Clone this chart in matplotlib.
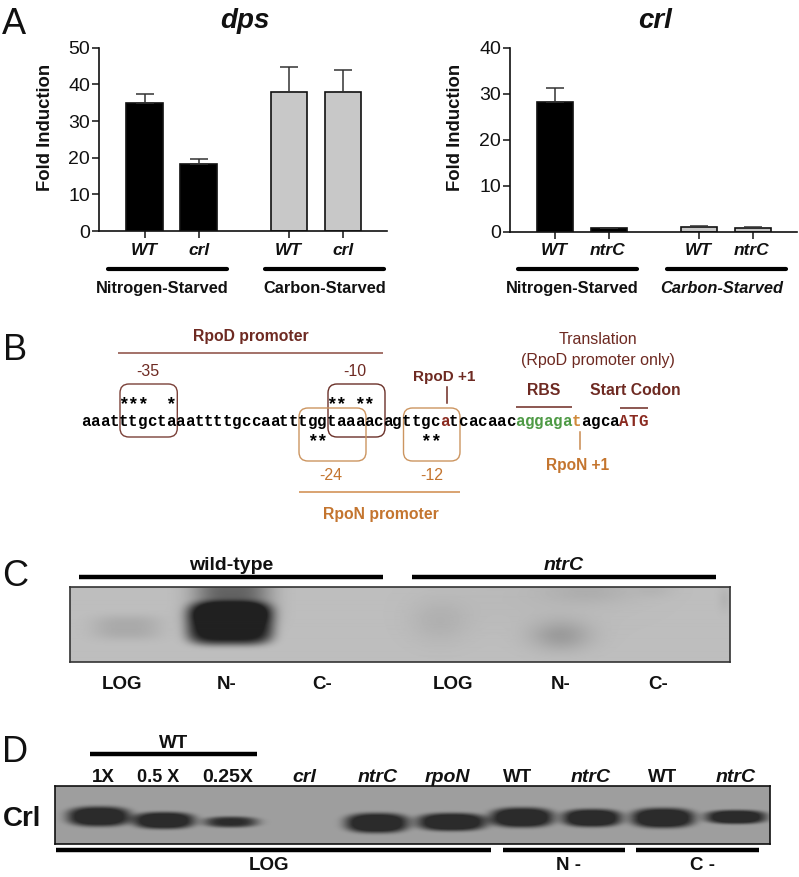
import numpy as np
import matplotlib
matplotlib.use("Agg")
import matplotlib.pyplot as plt
from matplotlib.patches import FancyBboxPatch

W, H = 799, 877
SANS = ['Liberation Sans']
plt.rcParams['font.family'] = SANS

# ---- panel A data
dps_groups = ['WT', 'crl', 'WT', 'crl']
dps_values = [35.0, 18.3, 38.0, 37.8]
dps_errors = [2.5, 1.4, 6.7, 6.2]
crl_groups = ['WT', 'ntrC', 'WT', 'ntrC']
crl_values = [28.3, 0.7, 1.1, 0.8]
crl_errors = [2.9, 0.15, 0.2, 0.2]
bar_colors = ['black', 'black', '#c8c8c8', '#c8c8c8']
bar_positions = [0, 1, 2.67, 3.67]

# ---- panel B data
sequence = "aaatttgctaaattttgccaatttggtaaaacagttgcatcacaacaggagatagcaATG"
red_idx = [38, 57, 58, 59]
green_idx = [46, 47, 48, 49, 50, 51]
orange_idx = [52]
star_top = [4, 5, 6, 9, 26, 27, 29, 30]
star_bottom = [24, 25, 36, 37]

# ---- blot bands: x centre, y centre, half width, half height, darkness, edge sharpness, corner squareness
c_bands = [
    (127, 628, 34, 12, 0.08, 3, 3), (230, 624, 43, 21, 0.72, 6, 4), (232, 598, 38, 24, 0.36, 3, 4),
    (440, 622, 30, 22, 0.05, 2, 2), (561, 636, 30, 15, 0.13, 2, 2), (590, 592, 45, 12, 0.05, 2, 2),
    (540, 600, 100, 30, 0.02, 2, 2), (655, 590, 20, 8, 0.03, 2, 2), (725, 600, 6, 12, 0.04, 2, 2),
]
d_bands = [
    (99, 816.5, 32, 10, 0.56, 5, 2.6), (164, 820.5, 31, 8.5, 0.56, 5, 2.6), (231, 822, 27, 5.5, 0.46, 4, 2.4),
    (377, 823, 32, 10, 0.57, 5, 2.6), (452, 822, 35, 9, 0.57, 5, 2.6), (522, 817.5, 32, 10, 0.58, 5, 2.6),
    (592, 818, 30, 9, 0.57, 5, 2.6), (663, 818, 32, 10, 0.58, 5, 2.6), (736, 817, 31, 7, 0.55, 5, 2.6),
]

fig = plt.figure(figsize=(W / 100, H / 100), dpi=100, facecolor='white')


def px_axes(x0, x1, ytop, ybot, **kw):
    return fig.add_axes([x0 / W, 1 - ybot / H, (x1 - x0) / W, (ybot - ytop) / H], **kw)


def bar_panel(x0, x1, ytop, ybot, ymax, yticks, vals, errs, xscale_first, unit):
    ax = px_axes(x0, x1, ytop, ybot)
    ax.set_facecolor('none')
    ax.bar(bar_positions, vals, width=0.67, color=bar_colors, edgecolor='#111111', linewidth=1.2)
    for p, v, e in zip(bar_positions, vals, errs):
        ax.errorbar(p, v, yerr=[[0], [e]], color='#333333', capsize=6.5, capthick=1.1, elinewidth=1.1)
    ax.set_xlim((x0 - xscale_first) / unit, (x1 - xscale_first) / unit)
    ax.set_ylim(0, ymax)
    ax.set_yticks(yticks)
    ax.set_xticks(bar_positions)
    ax.set_xticklabels([])
    ax.tick_params(axis='y', labelsize=14, width=1.1, length=5, pad=1.5, colors='#111111')
    ax.tick_params(axis='x', width=1.1, length=5, color='#111111')
    for s in ('top', 'right'):
        ax.spines[s].set_visible(False)
    for s in ('left', 'bottom'):
        ax.spines[s].set_linewidth(1.2)
        ax.spines[s].set_color('#111111')
    return ax


bar_panel(99, 387, 47.7, 231, 50, [0, 10, 20, 30, 40, 50], dps_values, dps_errors, 144.5, 54)
bar_panel(510, 797, 47.7, 231.7, 40, [0, 10, 20, 30, 40], crl_values, crl_errors, 555, 54)


def blot(x0, x1, ytop, ybot, bg, bands, edge, lw, floor):
    ax = px_axes(x0, x1, ytop, ybot)
    xs = np.arange(x0, x1, 1.0) + 0.5
    ys = np.arange(ytop, ybot, 1.0) + 0.5
    X, Y = np.meshgrid(xs, ys)
    img = np.full(X.shape, bg, dtype=float)
    for cx, cy, rx, ry, d, p, q in bands:
        r = (np.abs((X - cx) / rx) ** q + np.abs((Y - cy) / ry) ** q) ** (1.0 / q)
        img -= d * np.exp(-r ** p)
    ax.imshow(np.clip(img, floor, 1), cmap='gray', vmin=0, vmax=1, aspect='auto', interpolation='bilinear')
    ax.set_xticks([])
    ax.set_yticks([])
    for s in ax.spines.values():
        s.set_linewidth(lw)
        s.set_color(edge)
    return ax


blot(70, 730, 587, 662, 0.745, c_bands, '#333333', 1.2, 0.13)
blot(55, 770, 786, 844, 0.62, d_bands, '#111111', 1.2, 0.17)

# overlay in pixel coordinates
ov = fig.add_axes([0, 0, 1, 1], facecolor='none')
ov.set_xlim(0, W)
ov.set_ylim(H, 0)
ov.axis('off')


def T(x, y, s, size=10.5, weight='bold', style='normal', color='#111111', va='center_baseline', **kw):
    ov.text(x, y, s, fontsize=size, fontweight=weight, fontstyle=style, color=color,
            family=SANS, ha='center', va=va, **kw)


def L(x0, x1, y, lw=3.0, color='black', cap='butt'):
    ov.plot([x0, x1], [y, y], color=color, lw=lw, solid_capstyle=cap)


# panel letters
for ltr, x, y in [('A', 14, 21), ('B', 15, 347), ('C', 15, 573), ('D', 15, 749)]:
    T(x, y, ltr, size=26, weight='normal')

# panel A text
T(245, 18, 'dps', size=20, style='italic')
T(655, 18, 'crl', size=20, style='italic')
T(46, 127, 'Fold Induction', size=13.3, rotation=90, va='center')
T(456, 127, 'Fold Induction', size=13.3, rotation=90, va='center')
for x, s in zip([144, 199, 288, 343], dps_groups):
    T(x, 249, s, size=12.5, style='italic')
for x, s in zip([554, 608, 698, 752], crl_groups):
    T(x, 249, s, size=12.5, style='italic')
L(108, 227, 269, cap='round')
L(265, 384, 269, cap='round')
L(518, 637, 269, cap='round')
L(667, 786, 269, cap='round')
T(162, 287, 'Nitrogen-Starved', size=11.8)
T(325, 287, 'Carbon-Starved', size=11.8)
T(572, 287, 'Nitrogen-Starved', size=11.8)
T(722, 287, 'Carbon-Starved', size=11.8, style='italic')

# panel B
BROWN = '#6e2a22'
ORANGE = '#c4752f'
char_w = 9.44
x_seq = 81.0
for i, ch in enumerate(sequence):
    col = 'black'
    if i in red_idx:
        col = '#8a2a20'
    elif i in green_idx:
        col = '#4e9a45'
    elif i in orange_idx:
        col = '#d08a3a'
    ov.text(x_seq + (i + 0.5) * char_w, 421.5, ch, family='Liberation Mono', fontweight='bold',
            fontsize=11.3, color=col, ha='center', va='center')
for i in star_top:
    ov.text(x_seq + (i + 0.5) * char_w, 405, '*', family='Liberation Mono', fontweight='bold',
            fontsize=13, color='black', ha='center', va='center')
for i in star_bottom:
    ov.text(x_seq + (i + 0.5) * char_w, 442, '*', family='Liberation Mono', fontweight='bold',
            fontsize=13, color='black', ha='center', va='center')


def rbox(x0, x1, y0, y1, col):
    ov.add_patch(FancyBboxPatch((x0, y0), x1 - x0, y1 - y0, boxstyle='round,pad=0,rounding_size=9',
                                fc='none', ec=col, lw=1.0))


rbox(120, 177.3, 384, 437, '#7a4038')
rbox(328, 385, 384, 437, '#6a3028')
rbox(299, 366, 408, 461, '#cc9560')
rbox(403.5, 460, 408, 461, '#cc9560')

L(118, 383, 352.5, lw=1.1, color='#8a4a40')
L(299, 460, 492, lw=1.1, color='#d08a4a')
T(251, 335, 'RpoD promoter', size=11.3, color=BROWN)
T(381, 513, 'RpoN promoter', size=11.3, color=ORANGE)
T(148, 370, '-35', size=11.5, weight='normal', color=BROWN)
T(355, 370, '-10', size=11.5, weight='normal', color=BROWN)
T(331, 474, '-24', size=11.5, weight='normal', color=ORANGE)
T(432, 474, '-12', size=11.5, weight='normal', color=ORANGE)
T(444, 375, 'RpoD +1', size=11, color=BROWN)
ov.plot([446.7, 446.7], [387, 403], color=BROWN, lw=1.1)
T(598, 338, 'Translation', size=11.5, weight='normal', color=BROWN)
T(598, 359, '(RpoD promoter only)', size=11.5, weight='normal', color=BROWN)
T(544, 389, 'RBS', size=11.3, color=BROWN)
L(515.5, 572, 407, lw=1.1, color=BROWN)
T(635, 389, 'Start Codon', size=11.3, color=BROWN)
L(620, 648, 407.5, lw=1.1, color=BROWN)
ov.plot([580, 580], [432, 449], color='#c98a50', lw=1.1)
T(578, 464, 'RpoN +1', size=11.2, color=ORANGE)

# panel C
L(79, 383, 577.3, lw=3.2)
L(412, 716, 577.3, lw=3.2)
T(231, 564, 'wild-type', size=14)
T(564, 564, 'ntrC', size=14, style='italic')
for x, s in zip([122, 227, 322.5, 452.5, 561, 658], ['LOG', 'N-', 'C-', 'LOG', 'N-', 'C-']):
    T(x, 682.5, s, size=13.5)

# panel D
T(173.5, 741.5, 'WT', size=13.5)
L(90, 257, 753.7, lw=3.2)
lane_x = [103.5, 158, 228, 304.6, 377.5, 447.5, 518, 591, 663, 735.7]
lane_lab = ['1X', '0.5 X', '0.25X', 'crl', 'ntrC', 'rpoN', 'WT', 'ntrC', 'WT', 'ntrC']
lane_it = [False, False, False, True, True, True, False, True, False, True]
lane_sz = [13.5, 13, 14, 14, 14, 14, 13.5, 14, 13.5, 14]
for x, s, it, sz in zip(lane_x, lane_lab, lane_it, lane_sz):
    T(x, 775, s, size=sz, style='italic' if it else 'normal')
T(22, 815.5, 'Crl', size=20)
L(56, 491, 849.7, lw=3.2)
L(502.5, 625, 849.7, lw=3.2)
L(636, 759, 849.7, lw=3.2)
for x, s in zip([269, 569, 703], ['LOG', 'N -', 'C -']):
    T(x, 863, s, size=13.5)

fig.savefig('out.png', dpi=100, facecolor='white')
